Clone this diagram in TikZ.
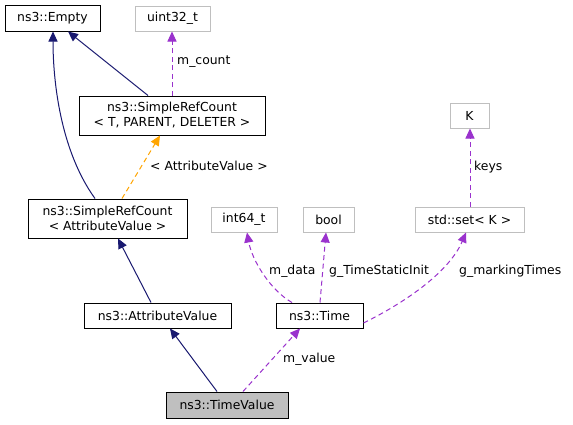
\documentclass[tikz,border=0pt]{standalone}
\usepackage{fontspec}
\setmainfont{DejaVu Sans}
\usetikzlibrary{arrows.meta}
\definecolor{navy}{RGB}{25,25,112}
\definecolor{orchid}{RGB}{154,50,205}
\definecolor{orng}{RGB}{255,165,0}
\definecolor{lgray}{RGB}{191,191,191}
\begin{document}
\begin{tikzpicture}[x=1pt,y=-1pt,
  every node/.style={font=\fontsize{12.4}{15}\selectfont, inner sep=0pt, align=center},
  cls/.style={draw=black, line width=1pt, fill=white},
  ext/.style={draw=lgray, line width=1pt, fill=white},
  cur/.style={draw=black, line width=1pt, fill=lgray},
  inh/.style={draw=navy, line width=1pt, -{Triangle[length=10pt,width=9pt]}},
  use/.style={draw=orchid, line width=1pt, dash pattern=on 5pt off 3.5pt, -{Triangle[length=10pt,width=9pt]}},
  tmpl/.style={draw=orng, line width=1pt, dash pattern=on 5pt off 3.5pt, -{Triangle[length=10pt,width=9pt]}},
  lbl/.style={anchor=west}
]
\useasboundingbox (0,0) rectangle (573,424);
\fill[white] (0,0) rectangle (573,424);

\node[cls, minimum width=95pt, minimum height=26pt] (empty) at (52.5,18) {ns3::Empty};
\node[ext, minimum width=75pt, minimum height=25pt] (uint) at (172.5,18.5) {uint32\_t};
\node[cls, minimum width=186pt, minimum height=39pt] (srcT) at (172,115.5) {ns3::SimpleRefCount\\{<} T, PARENT, DELETER {>}};
\node[cls, minimum width=159pt, minimum height=39pt] (srcAV) at (107.5,218.5) {ns3::SimpleRefCount\\{<} AttributeValue {>}};
\node[cls, minimum width=147pt, minimum height=25pt] (av) at (157.5,315.5) {ns3::AttributeValue};
\node[cur, minimum width=122pt, minimum height=26pt] (tv) at (227,405) {ns3::TimeValue};
\node[ext, minimum width=66pt, minimum height=25pt] (int64) at (244,219.5) {int64\_t};
\node[ext, minimum width=51pt, minimum height=25pt] (bool) at (328.5,219.5) {bool};
\node[ext, minimum width=109pt, minimum height=25pt] (set) at (469.5,219.5) {std::set{<} K {>}};
\node[ext, minimum width=39pt, minimum height=25pt] (K) at (469.5,115.5) {K};
\node[cls, minimum width=87pt, minimum height=25pt] (time) at (319.5,315.5) {ns3::Time};

% edges
\draw[inh] ([xshift=-12.5pt]srcAV.north) .. controls (60,150) and (53,80) .. ([xshift=0.5pt]empty.south);
\draw[inh] ([xshift=-24pt]srcT.north) -- ([xshift=15.5pt]empty.south);
\draw[use] (srcT.north) -- ([xshift=-0.5pt]uint.south);
\draw[tmpl] ([xshift=14.5pt]srcAV.north) -- ([xshift=-12pt]srcT.south);
\draw[inh] ([xshift=-6.5pt]av.north) -- ([xshift=10.5pt]srcAV.south);
\draw[inh] ([xshift=-10pt]tv.north) -- ([xshift=12.5pt]av.south);
\draw[use] ([xshift=16pt]tv.north) -- ([xshift=-19.5pt]time.south);
\draw[use] ([xshift=-27.5pt]time.north) .. controls (270,290) and (252,260) .. ([xshift=3pt]int64.south);
\draw[use] ([xshift=0.5pt]time.north) -- ([xshift=-2.5pt]bool.south);
\draw[use] ([yshift=-7.5pt]time.east) .. controls (410,300) and (450,270) .. ([xshift=-3.5pt]set.south);
\draw[use] ([xshift=0.5pt]set.north) -- ([xshift=0.5pt]K.south);

% labels
\node[lbl] (lcount) at (177,62) {m\_count};
\node[lbl] (ltmpl) at (150,166) {{<} AttributeValue {>}};
\node[lbl] (lvalue) at (283,359) {m\_value};
\node[lbl] (ldata) at (269,271) {m\_data};
\node[lbl] (linit) at (329,271) {g\_TimeStaticInit};
\node[lbl] (lmark) at (459,271) {g\_markingTimes};
\node[lbl] (lkeys) at (474,167) {keys};
\end{tikzpicture}
\end{document}
